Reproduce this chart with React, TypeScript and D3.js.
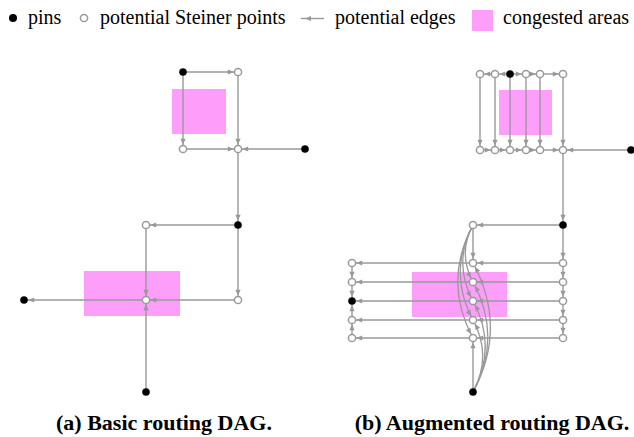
import React from 'react';
import * as d3 from 'd3';

const W = 634;
const H = 437;

const EDGE = '#999999';
const PINK = '#fd9ffa';

// legend entries
const legendLabels = ['pins', 'potential Steiner points', 'potential edges', 'congested areas'];

// captions
const captions = ['(a) Basic routing DAG.', '(b) Augmented routing DAG.'];

// ---- panel (a): basic routing DAG, node positions in panel units
const aNodes = [
  { id: 'p1', x: 159, y: 0, pin: true },
  { id: 's1', x: 214, y: 0, pin: false },
  { id: 's2', x: 159, y: 77, pin: false },
  { id: 's3', x: 214, y: 77, pin: false },
  { id: 'p2', x: 281, y: 77, pin: true },
  { id: 'p3', x: 214, y: 153, pin: true },
  { id: 's4', x: 122, y: 153, pin: false },
  { id: 's5', x: 214, y: 228, pin: false },
  { id: 's6', x: 122, y: 228, pin: false },
  { id: 'p4', x: 0, y: 228, pin: true },
  { id: 'p5', x: 122, y: 320, pin: true },
];
const aEdges = [
  ['p1', 's1'], ['p1', 's2'], ['s1', 's3'], ['s2', 's3'], ['p2', 's3'],
  ['s3', 'p3'], ['p3', 's4'], ['p3', 's5'], ['s4', 's6'], ['s5', 's6'],
  ['s6', 'p4'], ['p5', 's6'],
];
const aAreas = [
  { x0: 148, y0: 17, x1: 202, y1: 62 },
  { x0: 60, y0: 199, x1: 156, y1: 244 },
];

// ---- panel (b): augmented routing DAG
const bTopCols = [128, 143, 158, 174, 188, 211];
const bTopPin = 2;
const bTopY = 0;
const bBotY = 76;
const bRowYs = [189, 208, 227, 246, 264];
const bColL = 0;
const bColM = 121;
const bColR = 211;
const bRowPin = 2;
const bExtra = [
  { id: 'rp', x: 279, y: 76, pin: true },
  { id: 'q', x: 211, y: 151, pin: true },
  { id: 'm', x: 121, y: 151, pin: false },
  { id: 'bp', x: 121, y: 318, pin: true },
];
const bEdges = [
  ['t1', 't0'], ['t2', 't1'], ['t2', 't3'], ['t3', 't4'], ['t4', 't5'],
  ['t0', 'b0'], ['t1', 'b1'], ['t2', 'b2'], ['t3', 'b3'], ['t4', 'b4'], ['t5', 'b5'],
  ['b0', 'b1'], ['b1', 'b2'], ['b2', 'b3'], ['b3', 'b4'], ['b4', 'b5'],
  ['rp', 'b5'], ['b5', 'q'], ['q', 'm'], ['q', 'R0'],
  ['R0', 'R1'], ['R1', 'R2'], ['R2', 'R3'], ['R3', 'R4'],
  ['R0', 'M0'], ['R1', 'M1'], ['R2', 'M2'], ['R3', 'M3'], ['R4', 'M4'],
  ['M0', 'L0'], ['M1', 'L1'], ['M2', 'L2'], ['M3', 'L3'], ['M4', 'L4'],
  ['L0', 'L1'], ['L1', 'L2'], ['L4', 'L3'], ['L3', 'L2'],
  ['m', 'M0'], ['bp', 'M4'],
];
// curved edges: [from, to, bulge side]
const bCurves: [string, string, number][] = [
  ['m', 'M1', -1], ['m', 'M2', -1], ['m', 'M3', -1], ['m', 'M4', -1],
  ['bp', 'M3', 1], ['bp', 'M2', 1], ['bp', 'M1', 1], ['bp', 'M0', 1],
];
const bAreas = [
  { x0: 147, y0: 16, x1: 200, y1: 61 },
  { x0: 60, y0: 198, x1: 155, y1: 243 },
];

type N = { id: string; x: number; y: number; pin: boolean };

const bNodes: N[] = [
  ...bTopCols.map((x, i) => ({ id: 't' + i, x, y: bTopY, pin: i === bTopPin })),
  ...bTopCols.map((x, i) => ({ id: 'b' + i, x, y: bBotY, pin: false })),
  ...bRowYs.map((y, i) => ({ id: 'L' + i, x: bColL, y, pin: i === bRowPin })),
  ...bRowYs.map((y, i) => ({ id: 'M' + i, x: bColM, y, pin: false })),
  ...bRowYs.map((y, i) => ({ id: 'R' + i, x: bColR, y, pin: false })),
  ...bExtra,
];

const xA = d3.scaleLinear().domain([0, 281]).range([24, 305]);
const yA = d3.scaleLinear().domain([0, 320]).range([72, 392]);
const xB = d3.scaleLinear().domain([0, 279]).range([352, 631]);
const yB = d3.scaleLinear().domain([0, 318]).range([74, 392]);

const R = 3.6;

function Panel({ nodes, edges, areas, curves, sx, sy }: any) {
  const byId = new Map<string, N>(nodes.map((n: N) => [n.id, n]));
  const curvePath = (a: N, b: N, side: number) => {
    const x0 = sx(a.x), y0 = sy(a.y), x1 = sx(b.x), y1 = sy(b.y);
    const p = d3.path();
    p.moveTo(x0, y0);
    p.quadraticCurveTo(x0 + side * 0.27 * Math.abs(y1 - y0), (y0 + y1) / 2, x1, y1);
    return p.toString();
  };
  return (
    <g>
      {areas.map((r: any, i: number) => (
        <rect key={i} x={sx(r.x0)} y={sy(r.y0)} width={sx(r.x1) - sx(r.x0)}
          height={sy(r.y1) - sy(r.y0)} fill={PINK} />
      ))}
      {edges.map(([f, t]: string[], i: number) => {
        const a = byId.get(f)!, b = byId.get(t)!;
        return (
          <line key={i} x1={sx(a.x)} y1={sy(a.y)} x2={sx(b.x)} y2={sy(b.y)}
            stroke={EDGE} strokeWidth={1.4} markerEnd="url(#arr)" />
        );
      })}
      {(curves || []).map(([f, t, s]: [string, string, number], i: number) => (
        <path key={'c' + i} d={curvePath(byId.get(f)!, byId.get(t)!, s)} fill="none"
          stroke={EDGE} strokeWidth={1.3} markerEnd="url(#arr)" />
      ))}
      {nodes.map((n: N) => (
        <circle key={n.id} cx={sx(n.x)} cy={sy(n.y)} r={n.pin ? R : R}
          fill={n.pin ? '#000' : '#fff'} stroke={n.pin ? '#000' : EDGE}
          strokeWidth={n.pin ? 0.5 : 1.5} />
      ))}
    </g>
  );
}

export default function App() {
  const serif = '"Liberation Serif", "Times New Roman", serif';
  return (
    <svg width={W} height={H} style={{ position: 'absolute', left: 0, top: 0, background: '#fff' }}>
      <defs>
        <marker id="arr" viewBox="-8 -4 14 8" markerWidth={14} markerHeight={8}
          refX={4.2} refY={0} orient="auto" markerUnits="userSpaceOnUse">
          <path d="M0,0 L-6,-2.6 L-6,2.6 Z" fill={EDGE} />
        </marker>
      </defs>

      {/* legend */}
      <g fontFamily={serif} fontSize={20} fill="#000">
        <circle cx={13} cy={18} r={4} fill="#000" />
        <text x={28} y={24}>{legendLabels[0]}</text>
        <circle cx={84} cy={18} r={3.6} fill="#fff" stroke={EDGE} strokeWidth={1.5} />
        <text x={100} y={24}>{legendLabels[1]}</text>
        <line x1={324} y1={18.5} x2={300.8} y2={18.5} stroke={EDGE} strokeWidth={1.4} markerEnd="url(#arr)" />
        <text x={335} y={24}>{legendLabels[2]}</text>
        <rect x={472} y={10} width={21} height={21} fill={PINK} />
        <text x={503} y={24}>{legendLabels[3]}</text>
      </g>

      <Panel nodes={aNodes} edges={aEdges} areas={aAreas} sx={xA} sy={yA} />
      <Panel nodes={bNodes} edges={bEdges} areas={bAreas} curves={bCurves} sx={xB} sy={yB} />

      <g fontFamily={serif} fontSize={22} fontWeight="bold" textAnchor="middle">
        <text x={164} y={430}>{captions[0]}</text>
        <text x={492} y={430}>{captions[1]}</text>
      </g>
    </svg>
  );
}
